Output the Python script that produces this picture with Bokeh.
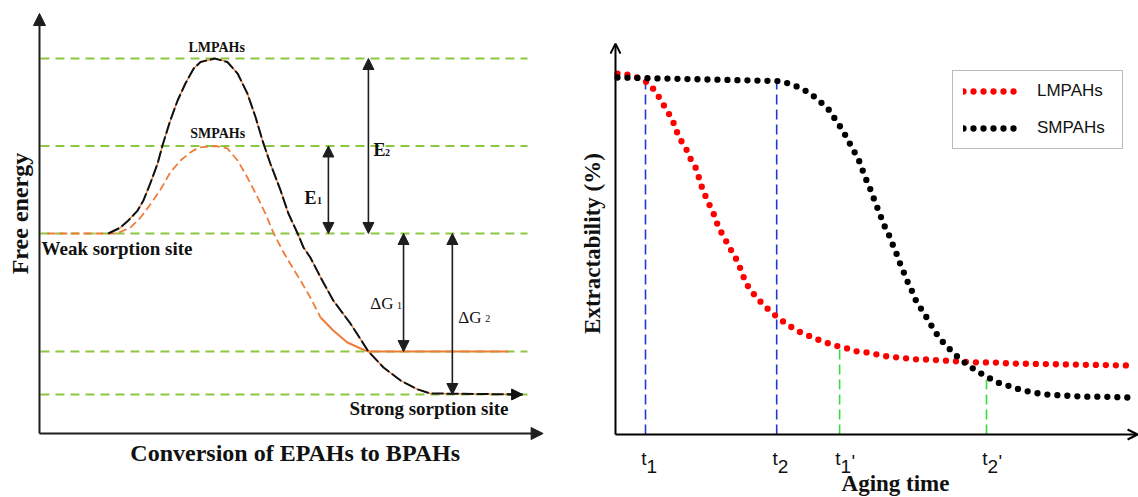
import math
from bokeh.plotting import figure
from bokeh.layouts import row
from bokeh.models import Range1d, Arrow, NormalHead, OpenHead, Label, Legend, LegendItem
from bokeh.embed import file_html
from bokeh.resources import INLINE

# ---------------- left panel data (conversion %, relative free energy) ----------------
energy_levels = [10.0, 5.0, 0.0, -6.75, -9.2]

lm_conv = [14.1, 16.6, 18.2, 20.1, 21.3, 22.7, 24.2, 25.2, 26.8, 28.3, 29.9, 31.6, 33.0,
           35.9, 38.5, 40.6, 42.6, 44.3, 45.7, 47.3, 49.4, 51.0, 52.9, 54.1, 55.5, 57.6,
           60.2, 63.7, 67.4, 70.5, 74.0, 77.5, 80.1, 99.0]
lm_energy = [0.0, 0.34, 0.74, 1.31, 1.89, 2.86, 4.0, 5.03, 6.46, 7.6, 8.57, 9.43, 9.8,
             10.0, 9.8, 9.14, 8.0, 6.63, 5.31, 4.0, 2.46, 1.14, 0.0, -0.8, -1.37, -2.51,
             -3.83, -5.14, -6.74, -7.66, -8.4, -8.91, -9.14, -9.2]

sm_conv_rise = [1.6, 15.6, 16.6, 18.6, 20.7, 22.7, 24.8, 26.8, 28.9, 30.9, 32.6, 36.1,
                38.5, 40.6, 42.6, 44.7, 46.3, 48.0, 49.8, 51.6, 53.5, 55.5, 57.6]
sm_energy_rise = [0.0, 0.0, 0.09, 0.34, 0.91, 1.66, 2.51, 3.49, 4.17, 4.63, 4.91, 5.0,
                  4.86, 4.17, 3.2, 2.06, 1.14, 0.0, -0.97, -1.83, -2.69, -3.66, -4.8]
sm_conv_settle = [57.6, 60.2, 63.1, 65.8, 67.4, 96.1]
sm_energy_settle = [-4.8, -5.54, -6.23, -6.57, -6.75, -6.75]

barrier_names = ["E", "E", "\u0394G", "\u0394G"]
barrier_subs = ["1", "2", "1", "2"]
barrier_conv = [59.2, 67.4, 74.6, 84.6]
barrier_top = [5.0, 10.0, 0.0, 0.0]
barrier_bottom = [0.0, 0.0, -6.75, -9.2]

# ---------------- right panel data (aging time, extractability %) ----------------
lm_time = [0.38, 2.3, 4.2, 6.15, 7.7, 8.85, 10.0, 11.0, 11.6, 12.5, 13.65, 14.4, 15.4,
           16.1, 16.7, 17.5, 18.3, 19.1, 19.8, 20.8, 21.9, 22.9, 23.8, 25.1, 26.5, 28.2,
           30.0, 31.7, 33.65, 35.6, 37.5, 39.4, 41.0, 42.9, 44.6, 46.5, 48.5, 50.4, 52.3,
           54.2, 56.2, 58.1, 60.0, 63.1, 66.3, 69.6, 72.7, 75.6, 99.6]
lm_extract = [101.1, 100.8, 100.0, 98.6, 96.1, 93.3, 90.5, 88.0, 85.4, 82.6, 79.8, 77.3,
              74.8, 71.7, 68.9, 66.1, 63.6, 61.1, 58.0, 55.5, 52.4, 50.1, 47.3, 42.3, 39.5,
              36.7, 34.2, 32.2, 30.25, 28.6, 27.45, 26.3, 25.5, 24.65, 24.1, 23.25, 22.97,
              22.4, 21.85, 21.57, 21.3, 21.0, 21.0, 20.7, 20.45, 20.2, 20.2, 19.9, 19.3]

sm_time = [0.38, 31.5, 33.65, 35.5, 37.3, 39.1, 41.0, 42.3, 43.6, 44.6, 45.6, 46.65, 47.3,
           48.0, 48.85, 49.5, 50.2, 50.9, 51.6, 52.5, 53.2, 54.0, 54.7, 55.5, 56.2, 57.1,
           57.9, 59.1, 60.2, 61.3, 62.7, 64.4, 66.2, 67.9, 69.8, 71.6, 73.3, 75.4, 77.3,
           79.2, 80.9, 82.9, 86.3, 90.1, 93.8, 99.6]
sm_extract = [100.0, 99.0, 98.2, 97.1, 95.7, 93.6, 91.0, 88.2, 85.4, 82.8, 80.0, 77.4,
              74.9, 72.1, 69.3, 66.75, 64.1, 61.5, 58.8, 56.2, 53.6, 50.8, 48.0, 45.2, 42.7,
              39.9, 37.1, 34.5, 31.9, 29.1, 26.3, 23.7, 21.2, 19.3, 17.5, 16.05, 14.65, 13.7,
              12.8, 12.1, 11.6, 11.2, 10.9, 10.6, 10.6, 10.3]

tick_time = [5.77, 31.0, 43.1, 71.35]
tick_sub = ["1", "2", "1", "2"]
tick_prime = ["", "", "'", "'"]
guide_top = [98.6, 99.2, 24.1, 16.0]
guide_color = ["#2436D6", "#2436D6", "#3ADB3A", "#3ADB3A"]

series_names = ["LMPAHs", "SMPAHs"]

# ---------------- styles ----------------
SERIF = "Liberation Serif"
SANS = "Liberation Sans"
DARK = "#1E1E1E"
ORANGE = "#EE7D3B"
LEVEL_GREEN = "#8DC63F"


def add_label(p, x, y, text, **kw):
    p.add_layout(Label(x=x, y=y, text=text, **kw))


# ======================= LEFT PANEL =======================
pL = figure(width=580, height=497, x_range=Range1d(-7.99, 110.86),
            y_range=Range1d(-15.086, 13.314), x_axis_type=None, y_axis_type=None,
            toolbar_location=None, output_backend="svg", min_border=0,
            outline_line_color=None)

pL.segment(x0=[0.2] * len(energy_levels), y0=energy_levels,
           x1=[100.0] * len(energy_levels), y1=energy_levels,
           line_color=LEVEL_GREEN, line_width=2, line_dash="9 6")

AXL_Y = -11.43
pL.add_layout(Arrow(end=NormalHead(size=12, fill_color=DARK, line_color=DARK),
                    x_start=0, y_start=AXL_Y, x_end=0, y_end=12.57,
                    line_color=DARK, line_width=2))
pL.add_layout(Arrow(end=NormalHead(size=12, fill_color=DARK, line_color=DARK),
                    x_start=0, y_start=AXL_Y, x_end=103.2, y_end=AXL_Y,
                    line_color=DARK, line_width=2))

# SMPAHs curve
pL.line(sm_conv_rise, sm_energy_rise, line_color=ORANGE, line_width=1.8, line_dash="8 4")
pL.line(sm_conv_settle, sm_energy_settle, line_color=ORANGE, line_width=2)

# LMPAHs curve (black dashes over thin orange)
pL.line(lm_conv, lm_energy, line_color=ORANGE, line_width=1.3)
pL.line(lm_conv, lm_energy, line_color="#111111", line_width=2, line_dash="12 3")
pL.add_layout(Arrow(end=NormalHead(size=11, fill_color="#111111", line_color="#111111"),
                    x_start=lm_conv[-1] - 3, y_start=lm_energy[-1],
                    x_end=lm_conv[-1], y_end=lm_energy[-1],
                    line_color="#111111", line_width=2))

# double arrows for barriers
for xc, yt, yb in zip(barrier_conv, barrier_top, barrier_bottom):
    pL.add_layout(Arrow(start=NormalHead(size=11, fill_color=DARK, line_color=DARK),
                        end=NormalHead(size=11, fill_color=DARK, line_color=DARK),
                        x_start=xc, y_start=yt, x_end=xc, y_end=yb,
                        line_color=DARK, line_width=1.6))

# barrier labels
bold = dict(text_font=SERIF, text_font_style="bold", text_color="#111111")
reg = dict(text_font=SERIF, text_font_style="normal", text_color="#111111")
# E1
add_label(pL, barrier_conv[0], 0.0, barrier_names[0], x_offset=-12, y_offset=35,
          text_align="right", text_baseline="alphabetic", text_font_size="18px", **bold)
add_label(pL, barrier_conv[0], 0.0, barrier_subs[0], x_offset=-11.5, y_offset=33,
          text_align="left", text_baseline="alphabetic", text_font_size="10px", **bold)
# E2
add_label(pL, barrier_conv[1], 0.0, barrier_names[1], x_offset=5, y_offset=83,
          text_align="left", text_baseline="alphabetic", text_font_size="18px", **bold)
add_label(pL, barrier_conv[1], 0.0, barrier_subs[1], x_offset=16.5, y_offset=81,
          text_align="left", text_baseline="alphabetic", text_font_size="10px", **bold)
# dG1
add_label(pL, barrier_conv[2], 0.0, barrier_names[2], x_offset=-10, y_offset=-70,
          text_align="right", text_baseline="alphabetic", text_font_size="17px", **reg)
add_label(pL, barrier_conv[2], 0.0, barrier_subs[2], x_offset=-6.5, y_offset=-72,
          text_align="left", text_baseline="alphabetic", text_font_size="10px", **reg)
# dG2
add_label(pL, barrier_conv[3], 0.0, barrier_names[3], x_offset=6, y_offset=-84,
          text_align="left", text_baseline="alphabetic", text_font_size="17px", **reg)
add_label(pL, barrier_conv[3], 0.0, barrier_subs[3], x_offset=33, y_offset=-85,
          text_align="left", text_baseline="alphabetic", text_font_size="10px", **reg)

# peak labels
lm_peak = max(range(len(lm_energy)), key=lambda i: lm_energy[i])
sm_peak = max(range(len(sm_energy_rise)), key=lambda i: sm_energy_rise[i])
add_label(pL, lm_conv[lm_peak], lm_energy[lm_peak], series_names[0], x_offset=2, y_offset=11,
          text_align="center", text_baseline="middle", text_font_size="14px", **bold)
add_label(pL, sm_conv_rise[sm_peak], sm_energy_rise[sm_peak], series_names[1], x_offset=2,
          y_offset=12, text_align="center", text_baseline="middle", text_font_size="14px", **bold)

# site labels
add_label(pL, 0.0, energy_levels[2], "Weak sorption site", x_offset=2, y_offset=-15,
          text_align="left", text_baseline="middle", text_font_size="19px", **bold)
add_label(pL, sm_conv_settle[-1], energy_levels[4], "Strong sorption site", y_offset=-14,
          text_align="right", text_baseline="middle", text_font_size="19px", **bold)

# axis titles
add_label(pL, -4.0, 1.14, "Free energy", angle=math.pi / 2, text_align="center",
          text_baseline="middle", text_font_size="24px", **bold)
add_label(pL, 52.4, -12.55, "Conversion of EPAHs to BPAHs", text_align="center",
          text_baseline="middle", text_font_size="24px", **bold)

# ======================= RIGHT PANEL =======================
pR = figure(width=558, height=497, x_range=Range1d(-6.73, 100.58),
            y_range=Range1d(-17.65, 121.57), x_axis_type=None, y_axis_type=None,
            toolbar_location=None, output_backend="svg", min_border=0,
            outline_line_color=None)

# guide lines at characteristic times
pR.segment(x0=tick_time, y0=[0.0] * len(tick_time), x1=tick_time, y1=guide_top,
           line_color=guide_color, line_width=1.6, line_dash="10 5")

red = pR.line(lm_time, lm_extract, line_color="#FF0000", line_width=6.3,
              line_dash="0 10", line_cap="round")
blk = pR.line(sm_time, sm_extract, line_color="#000000", line_width=6.3,
              line_dash="0 10", line_cap="round")

pR.add_layout(Arrow(end=OpenHead(size=10, line_width=2, line_color="#000000"),
                    x_start=0, y_start=0, x_end=0, y_end=109.5,
                    line_color="#000000", line_width=2))
pR.add_layout(Arrow(end=OpenHead(size=10, line_width=2, line_color="#000000"),
                    x_start=0, y_start=0, x_end=100.4, y_end=0,
                    line_color="#000000", line_width=2))

sans = dict(text_font=SANS, text_color="#111111")
for tt, sub, pr in zip(tick_time, tick_sub, tick_prime):
    add_label(pR, tt, 0.0, "t", x_offset=1, y_offset=-24, text_align="right",
              text_baseline="alphabetic", text_font_size="19px", **sans)
    add_label(pR, tt, 0.0, sub, x_offset=1, y_offset=-32.5, text_align="left",
              text_baseline="alphabetic", text_font_size="19px", **sans)
    if pr:
        add_label(pR, tt, 0.0, pr, x_offset=12, y_offset=-27, text_align="left",
                  text_baseline="alphabetic", text_font_size="19px", **sans)

add_label(pR, -4.42, 53.5, "Extractability (%)", angle=math.pi / 2, text_align="center",
          text_baseline="middle", text_font_size="23px", **bold)
add_label(pR, 53.85, -13.6, "Aging time", text_align="center", text_baseline="middle",
          text_font_size="23px", **bold)

legend = Legend(items=[LegendItem(label=series_names[0], renderers=[red]),
                       LegendItem(label=series_names[1], renderers=[blk])],
                location=(372, 348), glyph_width=60, glyph_height=20, label_height=20,
                label_width=75, label_standoff=14, padding=10, spacing=17, margin=0,
                border_line_color="#777777", border_line_width=1,
                background_fill_color="white", background_fill_alpha=1.0,
                label_text_font=SANS, label_text_font_size="17px",
                label_text_color="#111111")
pR.add_layout(legend)

layout = row(pL, pR)
open("out.html", "w").write(file_html(layout, INLINE))
